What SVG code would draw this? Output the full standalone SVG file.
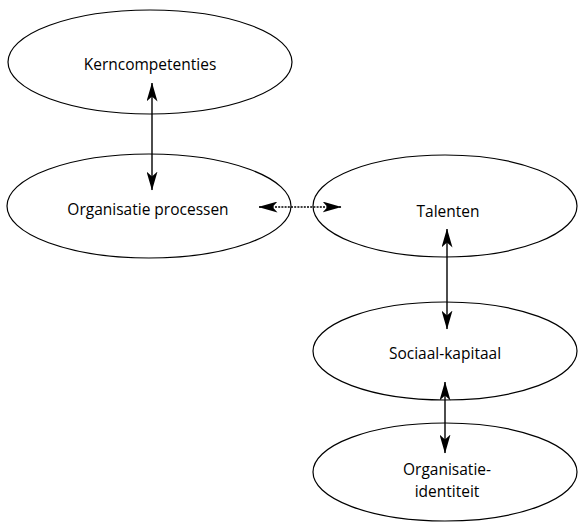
<svg xmlns="http://www.w3.org/2000/svg" width="578" height="522" viewBox="0 0 578 522">
<style>
.node ellipse{fill:#fff;stroke:#000;stroke-width:1.2}
.node text{font-family:"Open Sans","Liberation Sans",sans-serif;font-size:15.5px;fill:#000;text-anchor:middle}
.conn line{stroke:#000;stroke-width:1.4;marker-start:url(#ah);marker-end:url(#ah)}
.conn .dot{stroke-dasharray:2 1.2}
</style>
<defs>
<marker id="ah" viewBox="0 0 19 11" markerWidth="19" markerHeight="11" refX="18.5" refY="5.5" orient="auto-start-reverse" markerUnits="userSpaceOnUse">
<path d="M0,0 L19,5.5 L0,11 L5,5.5 z" fill="#000"/>
</marker>
</defs>
<rect width="578" height="522" fill="#fff"/>
<g id="kerncompetenties" class="node">
<ellipse cx="150" cy="62" rx="142" ry="52"/>
<text x="150" y="70">Kerncompetenties</text>
</g>
<g id="organisatie-processen" class="node">
<ellipse cx="149" cy="206" rx="142" ry="52"/>
<text x="148" y="215">Organisatie processen</text>
</g>
<g id="talenten" class="node">
<ellipse cx="445" cy="206" rx="132" ry="51"/>
<text x="448" y="217">Talenten</text>
</g>
<g id="sociaal-kapitaal" class="node">
<ellipse cx="445" cy="351" rx="132" ry="49"/>
<text x="445" y="359">Sociaal-kapitaal</text>
</g>
<g id="organisatie-identiteit" class="node">
<ellipse cx="445" cy="472" rx="132" ry="49"/>
<text x="447" y="475">Organisatie-</text>
<text x="447" y="497">identiteit</text>
</g>
<g id="connectors" class="conn">
<line x1="152" y1="83" x2="152" y2="190"/>
<line class="dot" x1="259" y1="207" x2="341" y2="207"/>
<line x1="447" y1="229" x2="447" y2="329"/>
<line x1="445" y1="382" x2="445" y2="453"/>
</g>
</svg>
